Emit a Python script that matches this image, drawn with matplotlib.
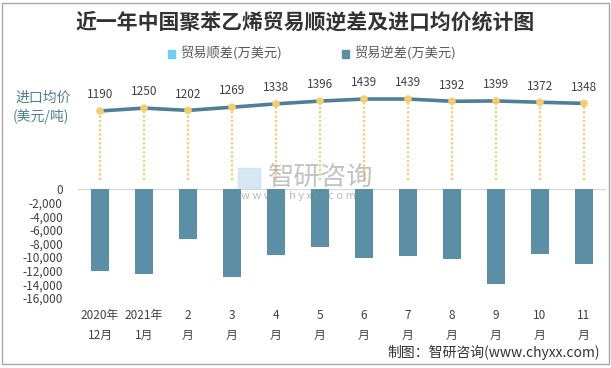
import matplotlib
matplotlib.use("Agg")
import matplotlib.pyplot as plt
from matplotlib.patches import Rectangle
from matplotlib.ticker import FuncFormatter

plt.rcParams['font.family'] = ['Noto Sans CJK SC', 'DejaVu Sans']

# data
months = ['2020年\n12月', '2021年\n1月', '2\n月', '3\n月', '4\n月', '5\n月',
          '6\n月', '7\n月', '8\n月', '9\n月', '10\n月', '11\n月']
deficit = [-12060, -12500, -7340, -12950, -9700, -8520,
           -10140, -9850, -10290, -13980, -9550, -11030]
surplus = [0] * 12
price = [1190, 1250, 1202, 1269, 1338, 1396, 1439, 1439, 1392, 1399, 1372, 1348]
yticks = [0, -2000, -4000, -6000, -8000, -10000, -12000, -14000, -16000]

W, H = 611, 368
bar_color = '#5b8fa6'
line_color = '#4d8098'
dot_color = '#f7cd6b'
text_color = '#404040'

fig = plt.figure(figsize=(W / 100, H / 100), dpi=100)

def box(x0, y0, x1, y1):
    # pixel box (top-left origin) -> figure fraction rect
    return [x0 / W, (H - y1) / H, (x1 - x0) / W, (y1 - y0) / H]

x = list(range(len(months)))

# bar panel
ax = fig.add_axes(box(78, 189, 606, 298))
ax.bar(x, surplus, width=0.42, color='#6ccdf5')
ax.bar(x, deficit, width=0.42, color=bar_color)
ax.set_xlim(-0.5, len(months) - 0.5)
ax.set_ylim(-16000, 0)
ax.set_yticks(yticks)
ax.yaxis.set_major_formatter(FuncFormatter(lambda v, p: f'{int(v):,}'))
ax.set_xticks(x)
ax.set_xticklabels(months, fontsize=8.5, color=text_color, linespacing=1.65)
ax.tick_params(axis='y', length=0, labelsize=8.5, labelcolor=text_color, pad=11)
ax.tick_params(axis='x', length=0, pad=8)
for s in ax.spines.values():
    s.set_visible(False)
ax.axhline(0, color='#d9d9d9', lw=1, zorder=0)
ax.patch.set_alpha(0)

# price line panel
ax2 = fig.add_axes(box(78, 85, 606, 180))
ax2.set_xlim(-0.5, len(months) - 0.5)
ax2.set_ylim(-247, 1731)
ax2.vlines(x, -247, price, colors=dot_color, linestyles=(0, (1, 1)), lw=1.6, zorder=1)
ax2.plot(x, price, color=line_color, lw=2.6, zorder=2)
ax2.scatter(x, price, s=30, color=dot_color, zorder=3, edgecolors='none')
for xi, p in zip(x, price):
    ax2.annotate(str(p), (xi, p), xytext=(0, 7), textcoords='offset points',
                 ha='center', va='bottom', fontsize=8.5, color=text_color)
ax2.axis('off')

# title, legend, side label
fig.text(305 / W, 1 - 22 / H, '近一年中国聚苯乙烯贸易顺逆差及进口均价统计图',
         ha='center', va='center', fontsize=15, fontweight='bold', color='#333333')
leg_y = 1 - 54 / H
fig.patches.append(Rectangle((168 / W, leg_y - 3.5 / H), 7 / W, 7 / H,
                             transform=fig.transFigure, color='#6ccdf5'))
fig.text(180 / W, leg_y, '贸易顺差(万美元)', ha='left', va='center', fontsize=9.5, color='#595959')
fig.patches.append(Rectangle((342 / W, leg_y - 3.5 / H), 7 / W, 7 / H,
                             transform=fig.transFigure, color=bar_color))
fig.text(354 / W, leg_y, '贸易逆差(万美元)', ha='left', va='center', fontsize=9.5, color='#595959')

fig.text(15 / W, 1 - 98 / H, '进口均价', ha='left', va='center', fontsize=10, color=line_color)
fig.text(13 / W, 1 - 117 / H, '(美元/吨)', ha='left', va='center', fontsize=10, color=line_color)

# watermark
fig.text(321 / W, 1 - 177 / H, '智研咨询', ha='center', va='center', fontsize=19,
         color='#9a9a9a', alpha=0.6, zorder=10)
fig.text(298 / W, 1 - 196 / H, 'w w w . c h y x x . c o m', ha='center', va='center',
         fontsize=8, color='#8a8a8a', alpha=0.6, zorder=10)
fig.patches.append(Rectangle((238 / W, 1 - 188 / H), 22 / W, 20 / H,
                             transform=fig.transFigure, color='#c6dff0', alpha=0.7, zorder=9))

# footer and frame
fig.text(600 / W, 1 - 352 / H, '制图：智研咨询(www.chyxx.com)', ha='right', va='center',
         fontsize=10, color='#333333')
fig.patches.append(Rectangle((2 / W, 1 - 364 / H), 607 / W, 361 / H,
                             transform=fig.transFigure, fill=False, ec='#a6a6a6', lw=1))

fig.savefig('out.png', dpi=100)
